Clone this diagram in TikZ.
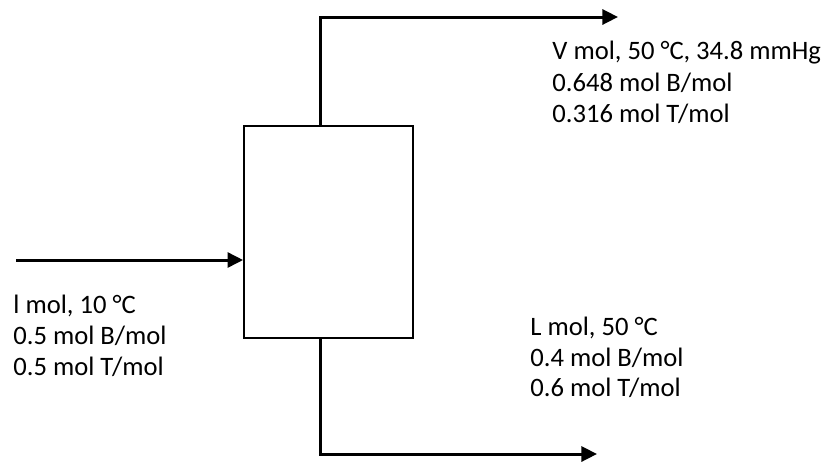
\documentclass[tikz,border=0pt]{standalone}
\usepackage{fontspec}
\setmainfont{Carlito}
\usetikzlibrary{arrows.meta}
\begin{document}
\begin{tikzpicture}[x=0.5pt,y=-0.5pt,
  flow/.style={line width=1.5pt,-{Triangle[length=7.8pt,width=7.5pt]}},
  unit/.style={draw,line width=0.9pt,minimum width=84.5pt,minimum height=106pt,inner sep=0pt},
  lbl/.style={anchor=base west,inner sep=0pt,font=\fontsize{13.3}{16}\selectfont}]
\useasboundingbox (0,0) rectangle (824,461);
\node[unit] (box) at (328.5,232) {};
% coordinates
\coordinate (topbend) at (320,17);
\coordinate (topend) at (618,17);
\coordinate (botbend) at (320,454);
\coordinate (botend) at (597,454);
\coordinate (feedstart) at (16,260);
% streams
\draw[flow] (box.north -| topbend) -- (topbend) -- (topend);
\draw[flow] (box.south -| botbend) -- (botbend) -- (botend);
\draw[flow] (feedstart) -- (feedstart -| box.west);
% labels
\node[lbl] (v1) at (552,59) {V mol, 50 °C, 34.8 mmHg};
\node[lbl] (v2) at (552,91) {0.648 mol B/mol};
\node[lbl] (v3) at (552,122) {0.316 mol T/mol};
\node[lbl] (f1) at (13,313) {l mol, 10 °C};
\node[lbl] (f2) at (13,344) {0.5 mol B/mol};
\node[lbl] (f3) at (13,375) {0.5 mol T/mol};
\node[lbl] (l1) at (530,335) {L mol, 50 °C};
\node[lbl] (l2) at (530,366) {0.4 mol B/mol};
\node[lbl] (l3) at (530,396) {0.6 mol T/mol};
\end{tikzpicture}
\end{document}
